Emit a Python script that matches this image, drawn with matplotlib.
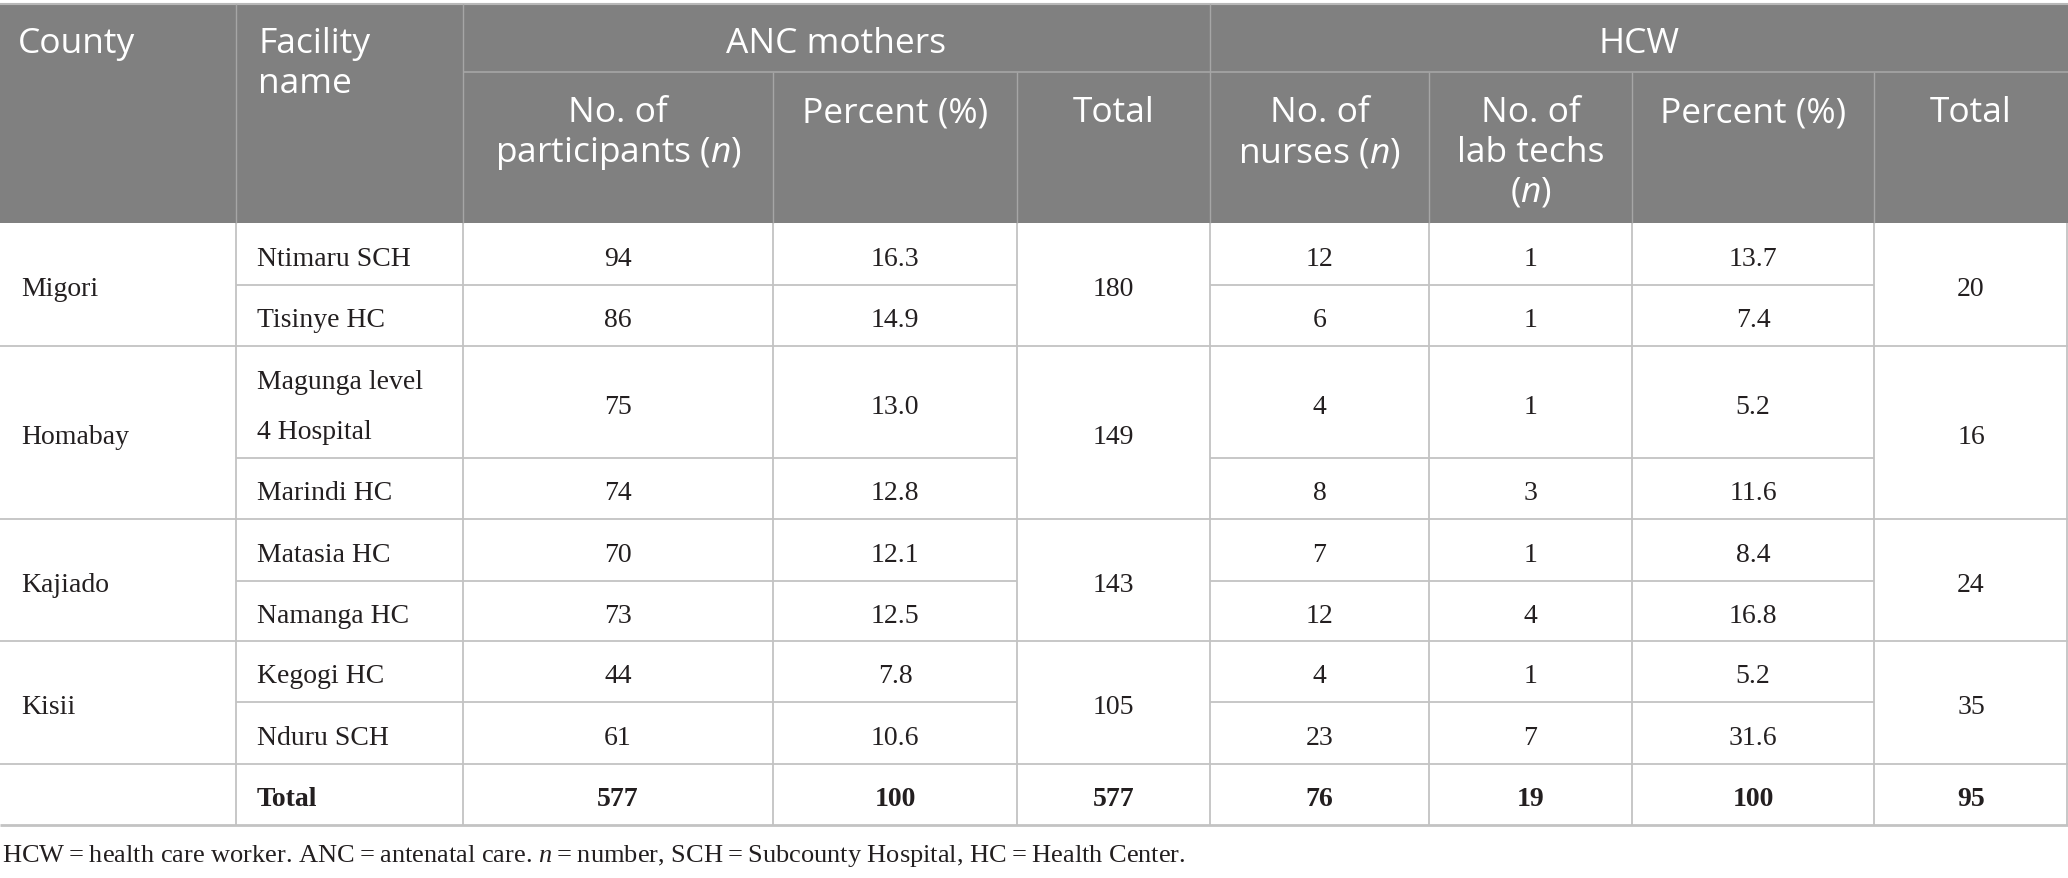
import matplotlib
matplotlib.use("Agg")
import matplotlib.pyplot as plt
from matplotlib.patches import Rectangle

# mathtext: sans italic for the header "n", serif italic for the footnote "n"
plt.rcParams['mathtext.fontset'] = 'custom'
plt.rcParams['mathtext.sf'] = 'Open Sans:italic'
plt.rcParams['mathtext.it'] = 'Liberation Serif:italic'
plt.rcParams['mathtext.rm'] = 'Liberation Serif'

# ---- table data ----
counties = ["Migori", "Homabay", "Kajiado", "Kisii"]
facilities = ["Ntimaru SCH", "Tisinye HC", "Magunga level\n4 Hospital", "Marindi HC",
              "Matasia HC", "Namanga HC", "Kegogi HC", "Nduru SCH"]
anc_n = [94, 86, 75, 74, 70, 73, 44, 61]
anc_pct = [16.3, 14.9, 13.0, 12.8, 12.1, 12.5, 7.8, 10.6]
anc_total = [180, 149, 143, 105]
nurses = [12, 6, 4, 8, 7, 12, 4, 23]
lab_techs = [1, 1, 1, 3, 1, 4, 1, 7]
hcw_pct = [13.7, 7.4, 5.2, 11.6, 8.4, 16.8, 5.2, 31.6]
hcw_total = [20, 16, 24, 35]
total_row = ["Total", "577", "100", "577", "76", "19", "100", "95"]

header_top = ["County", "Facility\nname"]
group_headers = ["ANC mothers", "HCW"]
sub_headers = ["No. of\nparticipants ($\\mathsf{n}$)", "Percent (%)", "Total",
               "No. of\nnurses ($\\mathsf{n}$)", "No. of\nlab techs\n($\\mathsf{n}$)",
               "Percent (%)", "Total"]
footnote = ("HCW\u2009=\u2009health care worker. ANC\u2009=\u2009antenatal care. "
            "$\\mathit{n}$\u2009=\u2009number, SCH\u2009=\u2009Subcounty Hospital, "
            "HC\u2009=\u2009Health Center.")

# ---- layout (pixels) ----
W, H = 2068, 879
col_edges = [0, 236, 463, 773, 1017, 1210, 1429, 1632, 1874, 2068]
row_edges = [224, 286, 347, 459, 520, 582, 642, 703, 765, 826]
head_top, head_mid, head_bot = 5, 73, 224
header_bg = "#808080"
head_line = "#a6a6a6"
grid = "#c3c3c3"
ink = "#231f20"
sans = "Open Sans"
serif = "Liberation Serif"
hsize = 25.5
bsize = 20
line_gap_h = 40
line_gap_b = 50

fig = plt.figure(figsize=(W / 100, H / 100), dpi=100)
ax = fig.add_axes([0, 0, 1, 1])
ax.set_xlim(0, W)
ax.set_ylim(H, 0)
ax.axis('off')


def cx(c):
    return (col_edges[c] + col_edges[c + 1]) / 2


def put_lines(x, y0, txt, gap, **kw):
    for i, ln in enumerate(txt.split("\n")):
        ax.text(x, y0 + i * gap, ln, va='baseline', **kw)


# header block
ax.add_patch(Rectangle((0, head_top), W, head_bot - head_top, color=header_bg, lw=0))
ax.hlines(head_top, 0, W, color="#b8b8b8", lw=1.5)
ax.hlines(head_mid, col_edges[2], W, color=head_line, lw=1.2)
for c in [1, 2, 5]:
    ax.vlines(col_edges[c], head_top, head_bot, color=head_line, lw=1.0)
for c in [3, 4, 6, 7, 8]:
    ax.vlines(col_edges[c], head_mid, head_bot, color=head_line, lw=1.0)

hkw = dict(color="white", fontsize=hsize, family=sans)
put_lines(18, 53, header_top[0], line_gap_h, ha='left', **hkw)
put_lines(258, 53, header_top[1], line_gap_h, ha='left', **hkw)
ax.text((col_edges[2] + col_edges[5]) / 2, 53, group_headers[0], ha='center', va='baseline', **hkw)
ax.text((col_edges[5] + col_edges[9]) / 2, 53, group_headers[1], ha='center', va='baseline', **hkw)
for j, t in enumerate(sub_headers):
    put_lines(cx(j + 2), 122, t, line_gap_h, ha='center', **hkw)

# body grid
n_rows = len(row_edges) - 1
for i in range(1, n_rows):
    y = row_edges[i]
    if i % 2 == 0:
        ax.hlines(y, 0, W, color=grid, lw=1.3)
    else:
        ax.hlines(y, col_edges[1], col_edges[4], color=grid, lw=1.3)
        ax.hlines(y, col_edges[5], col_edges[8], color=grid, lw=1.3)
ax.hlines(row_edges[-1], 0, W, color=grid, lw=2.0)
for x in col_edges[1:-1]:
    ax.vlines(x, row_edges[0], row_edges[-1], color=grid, lw=1.3)
ax.vlines(W - 1.5, row_edges[0], row_edges[-1], color=grid, lw=1.3)

bkw = dict(color=ink, fontsize=bsize, family=serif)
base_off = 11

for r in range(len(facilities)):
    yc = (row_edges[r] + row_edges[r + 1]) / 2
    lines = facilities[r].split("\n")
    y0 = yc + base_off - (len(lines) - 1) * line_gap_b / 2
    put_lines(257, y0, facilities[r], line_gap_b, ha='left', **bkw)
    vals = [str(anc_n[r]), f"{anc_pct[r]:.1f}", None, str(nurses[r]),
            str(lab_techs[r]), f"{hcw_pct[r]:.1f}"]
    for k, v in enumerate(vals):
        if v is not None:
            ax.text(cx(k + 2), yc + base_off, v, ha='center', va='baseline', **bkw)

for g in range(len(counties)):
    yc = (row_edges[2 * g] + row_edges[2 * g + 2]) / 2
    ax.text(21, yc + base_off, counties[g], ha='left', va='baseline', **bkw)
    ax.text(cx(4), yc + base_off, str(anc_total[g]), ha='center', va='baseline', **bkw)
    ax.text(cx(8), yc + base_off, str(hcw_total[g]), ha='center', va='baseline', **bkw)

# total row
yc = (row_edges[-2] + row_edges[-1]) / 2
ax.text(257, yc + base_off, total_row[0], ha='left', va='baseline', fontweight='bold', **bkw)
for k, v in enumerate(total_row[1:]):
    ax.text(cx(k + 2), yc + base_off, v, ha='center', va='baseline', fontweight='bold', **bkw)

# footnote
ax.text(2, 862, footnote, ha='left', va='baseline', color=ink, fontsize=19, family=serif)

fig.savefig("out.png", dpi=100)
